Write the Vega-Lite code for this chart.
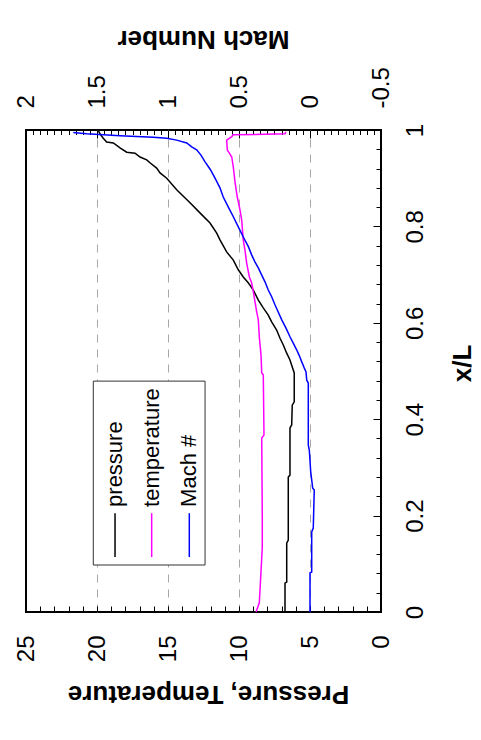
{
  "$schema": "https://vega.github.io/schema/vega-lite/v6.json",
  "width": 355,
  "height": 482,
  "autosize": {"type": "none"},
  "padding": {"left": 26, "top": 130, "right": 100, "bottom": 128},
  "background": "white",
  "config": {
    "font": "Liberation Sans",
    "view": {"stroke": "black", "strokeWidth": 2},
    "axis": {
      "labelFont": "Liberation Sans",
      "titleFont": "Liberation Sans",
      "labelFontSize": 24,
      "titleFontSize": 26,
      "titleFontWeight": "bold",
      "labelColor": "black",
      "titleColor": "black",
      "tickColor": "black",
      "tickWidth": 1,
      "domain": false,
      "labelOverlap": false,
      "labelFlush": false,
      "labelBound": false
    }
  },
  "datasets": {
    "curves": [
      {"s": "pressure", "x": 0, "v": 6.76},
      {"s": "pressure", "x": 0.06, "v": 6.76},
      {"s": "pressure", "x": 0.062, "v": 6.64},
      {"s": "pressure", "x": 0.143, "v": 6.64},
      {"s": "pressure", "x": 0.149, "v": 6.53},
      {"s": "pressure", "x": 0.28, "v": 6.53},
      {"s": "pressure", "x": 0.284, "v": 6.41},
      {"s": "pressure", "x": 0.382, "v": 6.41},
      {"s": "pressure", "x": 0.388, "v": 6.29},
      {"s": "pressure", "x": 0.429, "v": 6.25},
      {"s": "pressure", "x": 0.436, "v": 6.11},
      {"s": "pressure", "x": 0.496, "v": 6.11},
      {"s": "pressure", "x": 0.512, "v": 6.29},
      {"s": "pressure", "x": 0.523, "v": 6.41},
      {"s": "pressure", "x": 0.537, "v": 6.64},
      {"s": "pressure", "x": 0.554, "v": 6.88},
      {"s": "pressure", "x": 0.568, "v": 7.11},
      {"s": "pressure", "x": 0.585, "v": 7.35},
      {"s": "pressure", "x": 0.602, "v": 7.7},
      {"s": "pressure", "x": 0.616, "v": 7.94},
      {"s": "pressure", "x": 0.631, "v": 8.29},
      {"s": "pressure", "x": 0.647, "v": 8.64},
      {"s": "pressure", "x": 0.668, "v": 8.99},
      {"s": "pressure", "x": 0.683, "v": 9.35},
      {"s": "pressure", "x": 0.695, "v": 9.7},
      {"s": "pressure", "x": 0.71, "v": 10.05},
      {"s": "pressure", "x": 0.73, "v": 10.4},
      {"s": "pressure", "x": 0.747, "v": 10.87},
      {"s": "pressure", "x": 0.772, "v": 11.34},
      {"s": "pressure", "x": 0.786, "v": 11.57},
      {"s": "pressure", "x": 0.807, "v": 12.04},
      {"s": "pressure", "x": 0.828, "v": 12.75},
      {"s": "pressure", "x": 0.849, "v": 13.45},
      {"s": "pressure", "x": 0.876, "v": 14.39},
      {"s": "pressure", "x": 0.9, "v": 15.09},
      {"s": "pressure", "x": 0.911, "v": 15.56},
      {"s": "pressure", "x": 0.921, "v": 15.8},
      {"s": "pressure", "x": 0.932, "v": 16.27},
      {"s": "pressure", "x": 0.938, "v": 16.5},
      {"s": "pressure", "x": 0.944, "v": 16.97},
      {"s": "pressure", "x": 0.952, "v": 17.32},
      {"s": "pressure", "x": 0.954, "v": 17.91},
      {"s": "pressure", "x": 0.963, "v": 18.38},
      {"s": "pressure", "x": 0.973, "v": 18.85},
      {"s": "pressure", "x": 0.975, "v": 19.32},
      {"s": "pressure", "x": 0.983, "v": 19.56},
      {"s": "pressure", "x": 0.99, "v": 19.74},
      {"s": "pressure", "x": 0.998, "v": 19.9},
      {"s": "temperature", "x": 0, "v": 8.8},
      {"s": "temperature", "x": 0.019, "v": 8.57},
      {"s": "temperature", "x": 0.073, "v": 8.47},
      {"s": "temperature", "x": 0.135, "v": 8.36},
      {"s": "temperature", "x": 0.191, "v": 8.36},
      {"s": "temperature", "x": 0.361, "v": 8.4},
      {"s": "temperature", "x": 0.367, "v": 8.24},
      {"s": "temperature", "x": 0.492, "v": 8.29},
      {"s": "temperature", "x": 0.496, "v": 8.4},
      {"s": "temperature", "x": 0.533, "v": 8.45},
      {"s": "temperature", "x": 0.571, "v": 8.57},
      {"s": "temperature", "x": 0.606, "v": 8.64},
      {"s": "temperature", "x": 0.622, "v": 8.75},
      {"s": "temperature", "x": 0.643, "v": 8.87},
      {"s": "temperature", "x": 0.664, "v": 8.99},
      {"s": "temperature", "x": 0.683, "v": 9.11},
      {"s": "temperature", "x": 0.695, "v": 9.27},
      {"s": "temperature", "x": 0.724, "v": 9.46},
      {"s": "temperature", "x": 0.751, "v": 9.58},
      {"s": "temperature", "x": 0.772, "v": 9.7},
      {"s": "temperature", "x": 0.813, "v": 9.81},
      {"s": "temperature", "x": 0.834, "v": 9.93},
      {"s": "temperature", "x": 0.861, "v": 10.12},
      {"s": "temperature", "x": 0.892, "v": 10.28},
      {"s": "temperature", "x": 0.923, "v": 10.4},
      {"s": "temperature", "x": 0.944, "v": 10.51},
      {"s": "temperature", "x": 0.952, "v": 10.68},
      {"s": "temperature", "x": 0.958, "v": 10.82},
      {"s": "temperature", "x": 0.979, "v": 10.87},
      {"s": "temperature", "x": 0.986, "v": 10.51},
      {"s": "temperature", "x": 0.99, "v": 10.42},
      {"s": "temperature", "x": 0.992, "v": 6.76},
      {"s": "temperature", "x": 0.996, "v": 6.7},
      {"s": "Mach #", "x": 0, "v": 0},
      {"s": "Mach #", "x": 0.081, "v": 0},
      {"s": "Mach #", "x": 0.083, "v": -0.012},
      {"s": "Mach #", "x": 0.166, "v": -0.012},
      {"s": "Mach #", "x": 0.174, "v": -0.023},
      {"s": "Mach #", "x": 0.253, "v": -0.03},
      {"s": "Mach #", "x": 0.257, "v": -0.019},
      {"s": "Mach #", "x": 0.291, "v": -0.005},
      {"s": "Mach #", "x": 0.336, "v": 0.005},
      {"s": "Mach #", "x": 0.346, "v": 0.012},
      {"s": "Mach #", "x": 0.475, "v": 0.012},
      {"s": "Mach #", "x": 0.481, "v": 0.023},
      {"s": "Mach #", "x": 0.498, "v": 0.028},
      {"s": "Mach #", "x": 0.506, "v": 0.04},
      {"s": "Mach #", "x": 0.519, "v": 0.058},
      {"s": "Mach #", "x": 0.533, "v": 0.077},
      {"s": "Mach #", "x": 0.544, "v": 0.094},
      {"s": "Mach #", "x": 0.558, "v": 0.118},
      {"s": "Mach #", "x": 0.571, "v": 0.141},
      {"s": "Mach #", "x": 0.589, "v": 0.169},
      {"s": "Mach #", "x": 0.606, "v": 0.199},
      {"s": "Mach #", "x": 0.622, "v": 0.223},
      {"s": "Mach #", "x": 0.637, "v": 0.246},
      {"s": "Mach #", "x": 0.654, "v": 0.27},
      {"s": "Mach #", "x": 0.668, "v": 0.294},
      {"s": "Mach #", "x": 0.685, "v": 0.317},
      {"s": "Mach #", "x": 0.699, "v": 0.34},
      {"s": "Mach #", "x": 0.714, "v": 0.364},
      {"s": "Mach #", "x": 0.726, "v": 0.387},
      {"s": "Mach #", "x": 0.741, "v": 0.411},
      {"s": "Mach #", "x": 0.758, "v": 0.434},
      {"s": "Mach #", "x": 0.778, "v": 0.47},
      {"s": "Mach #", "x": 0.799, "v": 0.505},
      {"s": "Mach #", "x": 0.82, "v": 0.54},
      {"s": "Mach #", "x": 0.84, "v": 0.575},
      {"s": "Mach #", "x": 0.861, "v": 0.611},
      {"s": "Mach #", "x": 0.88, "v": 0.634},
      {"s": "Mach #", "x": 0.9, "v": 0.669},
      {"s": "Mach #", "x": 0.917, "v": 0.7},
      {"s": "Mach #", "x": 0.934, "v": 0.739},
      {"s": "Mach #", "x": 0.948, "v": 0.768},
      {"s": "Mach #", "x": 0.959, "v": 0.798},
      {"s": "Mach #", "x": 0.965, "v": 0.833},
      {"s": "Mach #", "x": 0.973, "v": 0.868},
      {"s": "Mach #", "x": 0.979, "v": 0.939},
      {"s": "Mach #", "x": 0.983, "v": 1.009},
      {"s": "Mach #", "x": 0.985, "v": 1.104},
      {"s": "Mach #", "x": 0.988, "v": 1.338},
      {"s": "Mach #", "x": 0.992, "v": 1.573},
      {"s": "Mach #", "x": 0.995, "v": 1.667}
    ]
  },
  "layer": [
    {
      "data": {"name": "curves"},
      "transform": [{"filter": "datum.s != 'Mach #'"}],
      "mark": {"type": "line", "strokeWidth": 1.5},
      "encoding": {
        "x": {
          "field": "v",
          "type": "quantitative",
          "title": "Pressure, Temperature",
          "scale": {"domain": [0, 25], "reverse": true, "nice": false, "zero": false},
          "axis": {
            "orient": "bottom",
            "values": [0,1,2,3,4,5,6,7,8,9,10,11,12,13,14,15,16,17,18,19,20,21,22,23,24,25],
            "tickCount": 1000,
            "labelExpr": "datum.value % 5 == 0 ? toString(datum.value) : ''",
            "labelOverlap": false,
            "labelAngle": -90,
            "labelPadding": 29,
            "ticks": true,
            "tickSize": -6,
            "tickColor": "black",
            "tickOpacity": 1,
            "grid": false,
            "titleAngle": 180,
            "titleX": 182,
            "titleY": 73,
            "titleAlign": "center",
            "titleBaseline": "alphabetic"
          }
        },
        "y": {
          "field": "x",
          "type": "quantitative",
          "title": "x/L",
          "scale": {"domain": [0, 1], "nice": false, "zero": false},
          "axis": {
            "orient": "right",
            "values": [0,0.04,0.08,0.12,0.16,0.2,0.24,0.28,0.32,0.36,0.4,0.44,0.48,0.52,0.56,0.6,0.64,0.68,0.72,0.76,0.8,0.84,0.88,0.92,0.96,1],
            "tickCount": 1000,
            "labelExpr": "round(datum.value * 100) % 20 == 0 ? toString(round(datum.value * 10) / 10) : ''",
            "labelOverlap": false,
            "labelAngle": -90,
            "labelAlign": "center",
            "labelBaseline": "top",
            "labelPadding": 30,
            "tickSize": {"condition": {"test": "round(datum.value * 100) % 20 == 0", "value": -8}, "value": -5},
            "grid": false,
            "titleAngle": -90,
            "titleX": 89,
            "titleY": 233,
            "titleAlign": "center",
            "titleBaseline": "alphabetic"
          }
        },
        "color": {
          "field": "s",
          "type": "nominal",
          "scale": {"domain": ["pressure", "temperature", "Mach #"], "range": ["#000000", "#ff00ff", "#0000ff"]},
          "legend": null
        },
        "order": {"field": "x", "type": "quantitative"}
      }
    },
    {
      "data": {"name": "curves"},
      "transform": [{"filter": "datum.s == 'Mach #'"}],
      "mark": {"type": "line", "strokeWidth": 1.5, "color": "#0000ff"},
      "encoding": {
        "x": {
          "field": "v",
          "type": "quantitative",
          "scale": {"domain": [-0.5, 2], "reverse": true, "nice": false, "zero": false},
          "axis": {
            "orient": "top",
            "values": [-0.5,-0.45,-0.4,-0.35,-0.3,-0.25,-0.2,-0.15,-0.1,-0.05,0,0.05,0.1,0.15,0.2,0.25,0.3,0.35,0.4,0.45,0.5,0.55,0.6,0.65,0.7,0.75,0.8,0.85,0.9,0.95,1,1.05,1.1,1.15,1.2,1.25,1.3,1.35,1.4,1.45,1.5,1.55,1.6,1.65,1.7,1.75,1.8,1.85,1.9,1.95,2],
            "tickCount": 1000,
            "labelExpr": "abs(round(datum.value * 100)) % 50 == 0 ? toString(round(datum.value * 10) / 10) : ''",
            "labelOverlap": false,
            "labelAngle": -90,
            "labelPadding": 30,
            "tickSize": {"condition": {"test": "abs(round(datum.value * 100)) % 50 == 0", "value": -8}, "value": -4.5},
            "grid": true,
            "gridDash": [8, 7],
            "gridColor": "#a8a8a8",
            "gridWidth": 1,
            "gridOpacity": {"condition": {"test": "abs(round(datum.value * 100)) % 50 == 0 && datum.value > -0.4 && datum.value < 1.9", "value": 1}, "value": 0},
            "title": "Mach Number",
            "titleAngle": 180,
            "titleX": 177,
            "titleY": -100,
            "titleAlign": "center",
            "titleBaseline": "alphabetic"
          }
        },
        "y": {"field": "x", "type": "quantitative", "title": "x/L"},
        "order": {"field": "x", "type": "quantitative"}
      }
    },
    {
      "data": {"values": [{}]},
      "layer": [
        {
          "mark": {"type": "rect", "fill": "white", "stroke": "#333333", "strokeWidth": 1},
          "encoding": {
            "x": {"datum": 20.26, "type": "quantitative", "scale": {"domain": [0, 25], "reverse": true, "nice": false, "zero": false}, "axis": null},
            "x2": {"datum": 12.39},
            "y": {"datum": 0.0975, "type": "quantitative", "title": "x/L"},
            "y2": {"datum": 0.479}
          }
        },
        {
          "mark": {"type": "rule", "color": "#000000", "strokeWidth": 1.5},
          "encoding": {
            "x": {"datum": 18.73, "type": "quantitative"},
            "y": {"datum": 0.114, "type": "quantitative", "title": "x/L"},
            "y2": {"datum": 0.205}
          }
        },
        {
          "mark": {"type": "rule", "color": "#ff00ff", "strokeWidth": 1.5},
          "encoding": {
            "x": {"datum": 16.15, "type": "quantitative"},
            "y": {"datum": 0.114, "type": "quantitative", "title": "x/L"},
            "y2": {"datum": 0.205}
          }
        },
        {
          "mark": {"type": "rule", "color": "#0000ff", "strokeWidth": 1.5},
          "encoding": {
            "x": {"datum": 13.5, "type": "quantitative"},
            "y": {"datum": 0.114, "type": "quantitative", "title": "x/L"},
            "y2": {"datum": 0.205}
          }
        },
        {
          "mark": {"type": "text", "angle": 270, "align": "left", "baseline": "middle", "fontSize": 22, "font": "Liberation Sans", "color": "black"},
          "encoding": {
            "x": {"datum": 18.73, "type": "quantitative"},
            "y": {"datum": 0.218, "type": "quantitative", "title": "x/L"},
            "text": {"value": "pressure"}
          }
        },
        {
          "mark": {"type": "text", "angle": 270, "align": "left", "baseline": "middle", "fontSize": 22, "font": "Liberation Sans", "color": "black"},
          "encoding": {
            "x": {"datum": 16.15, "type": "quantitative"},
            "y": {"datum": 0.218, "type": "quantitative", "title": "x/L"},
            "text": {"value": "temperature"}
          }
        },
        {
          "mark": {"type": "text", "angle": 270, "align": "left", "baseline": "middle", "fontSize": 22, "font": "Liberation Sans", "color": "black"},
          "encoding": {
            "x": {"datum": 13.5, "type": "quantitative"},
            "y": {"datum": 0.218, "type": "quantitative", "title": "x/L"},
            "text": {"value": "Mach #"}
          }
        }
      ]
    }
  ],
  "resolve": {"scale": {"x": "independent"}, "axis": {"x": "independent"}}
}
